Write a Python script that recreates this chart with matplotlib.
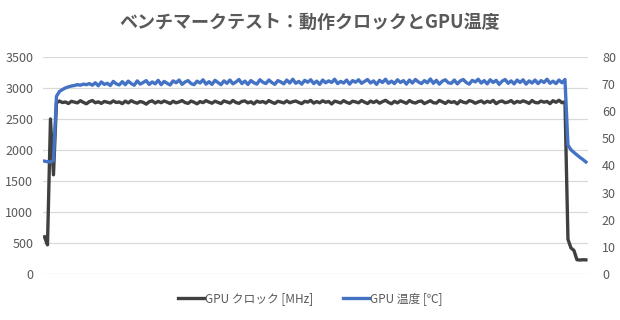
import matplotlib
matplotlib.use("Agg")
import matplotlib.pyplot as plt

plt.rcParams['font.family'] = ['Noto Sans CJK JP', 'DejaVu Sans']

title = "ベンチマークテスト：動作クロックとGPU温度"
label_clock = "GPU クロック [MHz]"
label_temp = "GPU 温度 [℃]"

clock_start = [600, 470, 2500, 1600, 2760]
clock_plateau = [
    2790, 2765, 2775, 2750, 2785, 2772, 2760, 2795, 2768, 2745,
    2780, 2798, 2762, 2777, 2752, 2783, 2770, 2758, 2792, 2766,
    2775, 2748, 2788, 2760, 2795, 2771, 2755, 2782, 2769, 2740,
    2778, 2793, 2757, 2784, 2763, 2790, 2772, 2750, 2786, 2761,
    2776, 2797, 2765, 2752, 2789, 2770, 2745, 2781, 2764, 2796,
    2773, 2755, 2787, 2768, 2749, 2792, 2775, 2758, 2799, 2766,
    2753, 2784, 2791, 2760, 2778, 2744, 2788, 2769, 2782, 2757,
    2797, 2771, 2751, 2786, 2774, 2759, 2793, 2762, 2779, 2790,
    2767, 2748, 2785, 2772, 2800, 2756, 2781, 2761, 2794, 2770,
    2783, 2742, 2788, 2775, 2758, 2796, 2769, 2752, 2787, 2776,
    2761, 2798, 2771, 2750, 2789, 2766, 2792, 2755, 2780, 2801,
    2768, 2746, 2785, 2760, 2793, 2774, 2753, 2797, 2770, 2757,
    2782, 2790, 2749, 2772, 2795, 2763, 2756, 2799, 2777, 2751,
    2788, 2767, 2780, 2744, 2794, 2771, 2759, 2796, 2783, 2754,
    2775, 2792, 2758, 2786, 2768, 2800, 2747, 2779, 2791, 2762,
    2773, 2797, 2755, 2784, 2769, 2793, 2776, 2752, 2798, 2766,
    2760, 2789, 2771, 2783, 2748, 2795, 2770, 2802, 2762, 2778,
]
clock_end = [560, 420, 380, 230, 225, 230, 228]

temp_start = [41.6, 41.4, 41.3, 41.8, 65.5, 67.3, 68.0, 68.6, 69.0, 69.3,
              69.5, 69.8, 69.6, 70.0, 69.8, 70.2]
temp_plateau = [
    69.6, 70.5, 69.4, 70.8, 69.9, 70.3, 69.5, 71.0, 70.1, 69.7,
    70.9, 69.8, 71.1, 70.2, 69.6, 71.2, 70.0, 70.6, 71.3, 69.9,
    70.8, 70.1, 71.4, 69.8, 71.0, 70.3, 69.7, 71.2, 70.5, 71.5,
    69.9, 70.8, 71.3, 70.2, 69.8, 71.1, 70.4, 71.6, 70.0, 70.9,
    69.9, 71.4, 70.6, 69.8, 71.2, 70.3, 71.5, 70.1, 70.8, 71.7,
    70.2, 71.1, 69.9, 71.3, 70.5, 70.0, 71.6, 70.7, 70.2, 71.5,
    70.6, 69.9, 71.3, 70.8, 70.1, 71.5, 70.4, 71.8, 70.3, 71.0,
    70.0, 71.4, 70.7, 71.6, 70.2, 71.1, 69.9, 71.5, 70.5, 71.2,
    70.6, 71.8, 70.2, 71.0, 70.4, 71.5, 70.0, 71.3, 70.7, 71.6,
    70.3, 71.0, 71.7, 70.4, 71.2, 69.9, 71.4, 70.6, 71.8, 70.3,
    71.1, 70.2, 71.6, 70.6, 71.3, 70.0, 71.5, 70.4, 71.7, 70.8,
    70.2, 71.3, 70.5, 71.9, 70.3, 71.4, 70.0, 71.1, 71.6, 70.5,
    70.3, 71.5, 70.1, 71.2, 71.7, 70.6, 70.0, 71.4, 70.8, 71.8,
    70.4, 71.3, 70.1, 71.6, 70.6, 71.4, 69.9, 71.1, 71.7, 70.3,
    71.2, 70.1, 71.5, 70.6, 71.6, 70.0, 71.2, 70.4, 71.5, 70.2,
    71.3, 70.6, 71.8, 70.3, 71.1, 70.2, 71.5, 70.5, 71.7,
]
temp_end = [47.5, 45.8, 44.8, 43.9, 43.0, 42.2, 41.3]

clock = clock_start + clock_plateau + clock_end
temp = temp_start + temp_plateau + temp_end
x = list(range(len(clock)))

left_ticks = [0, 500, 1000, 1500, 2000, 2500, 3000, 3500]
right_ticks = [0, 10, 20, 30, 40, 50, 60, 70, 80]

text_color = "#595959"
grid_color = "#d9d9d9"
c_clock = "#404040"
c_temp = "#4472C4"

fig = plt.figure(figsize=(6.2, 3.2), dpi=100)
ax = fig.add_axes([43/620, 1-274/320, (588-43)/620, (274-57)/320])
ax2 = ax.twinx()

ax.plot(x, clock, color=c_clock, lw=2.4, solid_joinstyle='round', label=label_clock, zorder=3)
ax2.plot(x, temp, color=c_temp, lw=2.4, solid_joinstyle='round', label=label_temp, zorder=3)

ax.set_ylim(0, 3500)
ax2.set_ylim(0, 80)
ax.set_xlim(-0.5, len(x) - 0.3)
ax.set_yticks(left_ticks)
ax2.set_yticks(right_ticks)
ax.set_xticks([])
ax.yaxis.grid(True, color=grid_color, lw=0.9)
ax.set_axisbelow(True)
for a in (ax, ax2):
    for s in a.spines.values():
        s.set_visible(False)
    a.tick_params(axis='y', length=0, labelsize=9, colors=text_color, pad=7)
ax2.tick_params(axis='y', pad=10)

fig.text(0.5, 1-22/320, title, ha='center', va='center', fontsize=13,
         fontweight='bold', color=text_color)

h1, l1 = ax.get_legend_handles_labels()
h2, l2 = ax2.get_legend_handles_labels()
leg = fig.legend(h1 + h2, l1 + l2, loc='center', bbox_to_anchor=(0.5, 1-299/320),
                 ncol=2, frameon=False, fontsize=8.5, handlelength=2.2,
                 handletextpad=0.1, columnspacing=2.5)
for t in leg.get_texts():
    t.set_color(text_color)

fig.savefig("out.png", dpi=100)
